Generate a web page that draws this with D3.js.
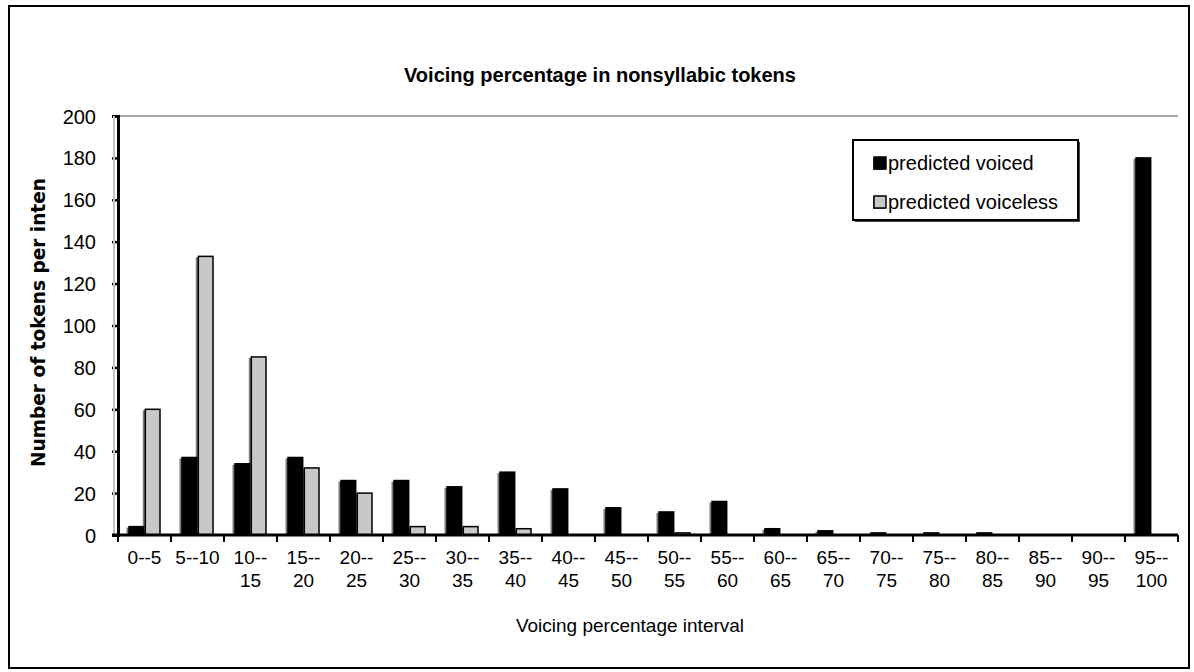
<!DOCTYPE html>
<html>
<head>
<meta charset="utf-8">
<script src="https://cdn.jsdelivr.net/npm/d3@7"></script>
<style>
  body { margin: 0; background: #fff; }
  text { font-family: "Liberation Sans", Arial, sans-serif; fill: #000; }
</style>
</head>
<body>
<div id="chart"></div>
<script>
// DATA
var categories = ["0--5", "5--10", "10--15", "15--20", "20--25", "25--30", "30--35", "35--40",
                  "40--45", "45--50", "50--55", "55--60", "60--65", "65--70", "70--75", "75--80",
                  "80--85", "85--90", "90--95", "95--100"];
var voiced    = [4, 37, 34, 37, 26, 26, 23, 30, 22, 13, 11, 16, 3, 2, 1, 1, 1, 0, 0, 180];
var voiceless = [60, 133, 85, 32, 20, 4, 4, 3, 0, 0, 1, 0, 0, 0, 0, 0, 0, 0, 0, 0];
var seriesNames = ["predicted voiced", "predicted voiceless"];
var yTicks = [0, 20, 40, 60, 80, 100, 120, 140, 160, 180, 200];

var W = 1194, H = 672;
var plot = {left: 118, right: 1178, top: 116, bottom: 535};

var svg = d3.select("#chart").append("svg")
  .attr("width", W).attr("height", H);

// outer frame
svg.append("rect")
  .attr("x", 9).attr("y", 6).attr("width", W - 14).attr("height", H - 10)
  .attr("fill", "#fff").attr("stroke", "#000").attr("stroke-width", 2);

// SCALES
var x = d3.scaleBand().domain(categories).range([plot.left, plot.right]);
var x1 = d3.scaleBand().domain(seriesNames).range([11, 42]).paddingInner(0.1);
var y = d3.scaleLinear().domain([0, 200]).range([plot.bottom, plot.top]);

var colors = {"predicted voiced": "#000", "predicted voiceless": "#c8c8c8"};

// top border of plot
svg.append("line")
  .attr("x1", plot.left).attr("x2", plot.right)
  .attr("y1", plot.top).attr("y2", plot.top)
  .attr("stroke", "#a8a8a8").attr("stroke-width", 2);

// BARS
var rows = categories.map(function(c, i) {
  return {cat: c, values: [{s: seriesNames[0], v: voiced[i]}, {s: seriesNames[1], v: voiceless[i]}]};
});

var groups = svg.append("g").selectAll("g")
  .data(rows).enter().append("g")
  .attr("transform", function(d) { return "translate(" + x(d.cat) + ",0)"; });

var bw = x1.bandwidth();

groups.selectAll("rect.shadow")
  .data(function(d) { return d.values.filter(function(e) { return e.v > 0; }); })
  .enter().append("rect")
  .attr("class", "shadow")
  .attr("x", function(d) { return x1(d.s) - 2.5; })
  .attr("y", function(d) { return y(d.v) + 1; })
  .attr("width", bw)
  .attr("height", function(d) { return y(0) - y(d.v) - 1; })
  .attr("fill", "#7a7a7a");

groups.selectAll("rect.bar")
  .data(function(d) { return d.values.filter(function(e) { return e.v > 0; }); })
  .enter().append("rect")
  .attr("class", "bar")
  .attr("x", function(d) { return x1(d.s); })
  .attr("y", function(d) { return y(d.v); })
  .attr("width", bw)
  .attr("height", function(d) { return y(0) - y(d.v); })
  .attr("fill", function(d) { return colors[d.s]; })
  .attr("stroke", "#000").attr("stroke-width", 1.5);

// Y AXIS
var yAxis = d3.axisLeft(y).tickValues(yTicks).tickSize(6).tickPadding(16);
var gy = svg.append("g")
  .attr("transform", "translate(" + plot.left + ",0)")
  .call(yAxis);
gy.select(".domain").attr("stroke", "#000").attr("stroke-width", 3);
gy.selectAll(".tick line").attr("stroke", "#000").attr("stroke-width", 2.5);
gy.selectAll(".tick text").style("font-size", "20px").attr("dy", "0.35em");

svg.append("line")
  .attr("x1", plot.left - 4).attr("x2", plot.left - 4)
  .attr("y1", plot.top).attr("y2", plot.bottom)
  .attr("stroke", "#c4c4c4").attr("stroke-width", 2);

// X AXIS
var gx = svg.append("g")
  .attr("transform", "translate(0," + plot.bottom + ")");
gx.append("line")
  .attr("x1", plot.left - 6).attr("x2", plot.right)
  .attr("stroke", "#000").attr("stroke-width", 3);
gx.selectAll("line.tick")
  .data(categories.concat(["end"]))
  .enter().append("line")
  .attr("class", "tick")
  .attr("x1", function(d, i) { return plot.left + i * x.bandwidth(); })
  .attr("x2", function(d, i) { return plot.left + i * x.bandwidth(); })
  .attr("y1", 0).attr("y2", 7)
  .attr("stroke", "#000").attr("stroke-width", 2);

var labels = gx.selectAll("text.xl")
  .data(categories)
  .enter().append("text")
  .attr("class", "xl")
  .attr("text-anchor", "middle")
  .style("font-size", "19px")
  .attr("transform", function(d) { return "translate(" + (x(d) + x.bandwidth() / 2) + ",29)"; });
labels.each(function(d) {
  var t = d3.select(this);
  var parts = d.split("--");
  if (d.length <= 5) {
    t.append("tspan").attr("x", 0).attr("y", 0).text(d);
  } else {
    t.append("tspan").attr("x", 0).attr("y", 0).text(parts[0] + "--");
    t.append("tspan").attr("x", 0).attr("y", 23).text(parts[1]);
  }
});

// TITLES
svg.append("text")
  .attr("x", 600).attr("y", 82)
  .attr("text-anchor", "middle")
  .style("font-size", "20px").style("font-weight", "bold")
  .text("Voicing percentage in nonsyllabic tokens");

svg.append("text")
  .attr("x", 630).attr("y", 632)
  .attr("text-anchor", "middle")
  .style("font-size", "19px")
  .text("Voicing percentage interval");

svg.append("text")
  .attr("transform", "translate(45,467) rotate(-90)")
  .attr("text-anchor", "start")
  .attr("textLength", 289).attr("lengthAdjust", "spacingAndGlyphs")
  .style("font-family", "'DejaVu Sans', sans-serif")
  .style("font-size", "20px").style("font-weight", "900")
  .text("Number of tokens per inten");

// LEGEND
var lg = svg.append("g").attr("transform", "translate(853,140)");
lg.append("rect").attr("x", 2).attr("y", 2).attr("width", 225).attr("height", 80).attr("fill", "#444");
lg.append("rect").attr("width", 225).attr("height", 80)
  .attr("fill", "#fff").attr("stroke", "#000").attr("stroke-width", 2);
var items = lg.selectAll("g.item").data(seriesNames).enter().append("g")
  .attr("transform", function(d, i) { return "translate(21," + (23 + i * 39) + ")"; });
items.append("rect").attr("x", -1).attr("y", -5).attr("width", 12).attr("height", 12)
  .attr("fill", "#666");
items.append("rect").attr("x", 0).attr("y", -6).attr("width", 12).attr("height", 12)
  .attr("fill", function(d) { return colors[d]; })
  .attr("stroke", "#000").attr("stroke-width", 1.5);
items.append("text").attr("x", 14).attr("dy", "0.35em")
  .style("font-size", "20px")
  .text(function(d) { return d; });
</script>
</body>
</html>
